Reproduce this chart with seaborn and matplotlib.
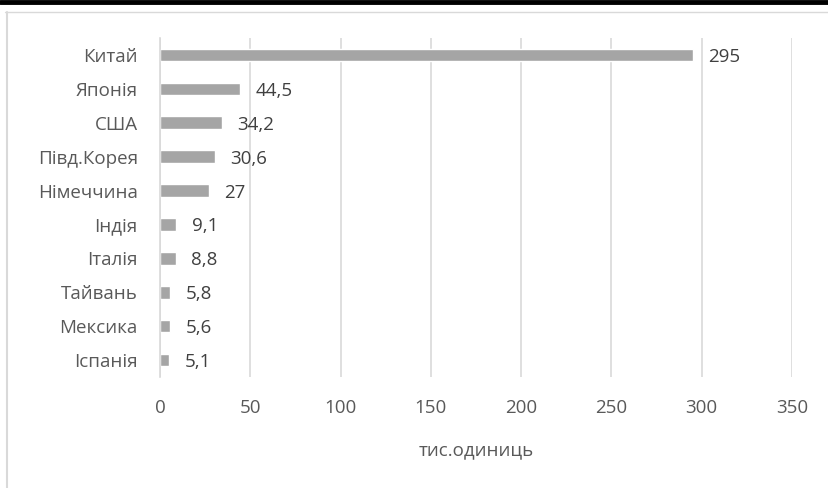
import matplotlib
matplotlib.use("Agg")
import matplotlib.pyplot as plt
import seaborn as sns
import pandas as pd
from matplotlib.lines import Line2D

countries = ["Китай", "Японія", "США", "Півд.Корея", "Німеччина", "Індія",
             "Італія", "Тайвань", "Мексика", "Іспанія"]
values = [295, 44.5, 34.2, 30.6, 27, 9.1, 8.8, 5.8, 5.6, 5.1]
value_labels = ["295", "44,5", "34,2", "30,6", "27", "9,1", "8,8", "5,8", "5,6", "5,1"]
xticks = [0, 50, 100, 150, 200, 250, 300, 350]
xlabel = "тис.одиниць"

sns.set_theme(style="white")
plt.rcParams['font.family'] = ['Open Sans', 'DejaVu Sans']
text_color = "#595959"
fs = 13.5

df = pd.DataFrame({"country": countries, "value": values})

fig = plt.figure(figsize=(8.29, 4.88), dpi=100)
ax = fig.add_axes([160/829, 1 - 377/488, (792-160)/829, (377-38)/488])

sns.barplot(data=df, y="country", x="value", color="#A5A5A5", width=0.37,
            saturation=1, ax=ax, orient="h")

ax.set_xlim(0, 350)
ax.set_ylim(9.5, -0.5)
ax.set_xticks(xticks)
ax.set_xticklabels([str(t) for t in xticks], fontsize=fs, color=text_color)
ax.tick_params(axis="y", labelsize=fs, labelcolor=text_color, length=0, pad=16)
ax.tick_params(axis="x", length=0, pad=16)
ax.set_ylabel("")
ax.set_xlabel(xlabel, fontsize=fs, color=text_color, labelpad=17)

ax.grid(axis="x", color="#D9D9D9", linewidth=1.2)
ax.set_axisbelow(True)
for s in ["top", "right", "bottom"]:
    ax.spines[s].set_visible(False)
ax.spines["left"].set_color("#D9D9D9")
ax.spines["left"].set_linewidth(1.2)

for i, (v, lab) in enumerate(zip(values, value_labels)):
    ax.annotate(lab, xy=(v, i), xytext=(11, 0), textcoords="offset points",
                va="center_baseline", ha="left", fontsize=fs, color="#404040")

# frame decorations
fig.add_artist(Line2D([0, 1], [1 - 2/488, 1 - 2/488], transform=fig.transFigure,
                      color="black", linewidth=3.5))
fig.add_artist(Line2D([5/829, 1], [1 - 11.5/488, 1 - 11.5/488], transform=fig.transFigure,
                      color="#D9D9D9", linewidth=1))
fig.add_artist(Line2D([7.5/829, 7.5/829], [0, 1 - 11.5/488], transform=fig.transFigure,
                      color="#D9D9D9", linewidth=1.5))

fig.savefig("out.png", dpi=100)
